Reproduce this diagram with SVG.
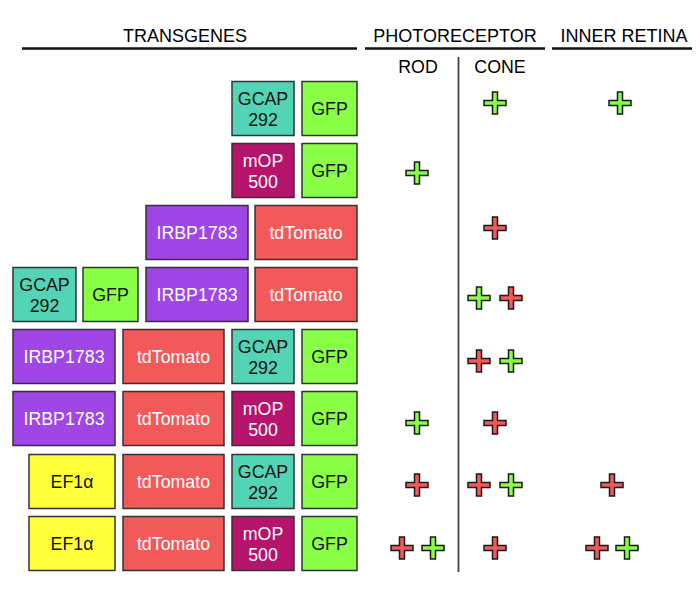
<svg xmlns="http://www.w3.org/2000/svg" xmlns:xlink="http://www.w3.org/1999/xlink" width="700" height="589" viewBox="0 0 700 589">
<style>
text{font-family:"Liberation Sans",Arial,sans-serif;font-size:17.8px;text-anchor:middle}
.hd{font-size:18px;fill:#000}
.box{stroke:#333;stroke-width:1.5}
.gcap{fill:#54D4B6}.gfp{fill:#88FF44}.irbp{fill:#A045E6}.tdt{fill:#F25A5A}.mop{fill:#B5136C}.ef{fill:#FFFF3A}
.dk{fill:#111}.wt{fill:#fff}
.rule{stroke:#111;stroke-width:2.5}
.pg{fill:#88FF44}.pr{fill:#F25A5A}
</style>
<defs>
<path id="plus" d="M-2.5,-11 h5 v8.5 h8.5 v5 h-8.5 v8.5 h-5 v-8.5 h-8.5 v-5 h8.5 z" stroke="#1a1a1a" stroke-width="1.5"/>
</defs>
<rect width="700" height="589" fill="#fff"/>
<g id="headers">
<text class="hd" x="185" y="41.5">TRANSGENES</text>
<text class="hd" x="455" y="41.5">PHOTORECEPTOR</text>
<text class="hd" x="624" y="41.5">INNER RETINA</text>
<text x="418" y="73">ROD</text>
<text x="500" y="73">CONE</text>
</g>
<g id="rules">
<line class="rule" x1="22" y1="48.5" x2="357" y2="48.5"/>
<line class="rule" x1="365" y1="48.5" x2="545" y2="48.5"/>
<line class="rule" x1="552" y1="48.5" x2="692" y2="48.5"/>
<line x1="458.5" y1="57" x2="458.5" y2="572" stroke="#444" stroke-width="1.8"/>
</g>
<g id="row1">
<g id="r1-gcap"><rect class="box gcap" x="232" y="81.5" width="62" height="54"/><text class="dk" x="263" y="104.5">GCAP</text><text class="dk" x="263" y="125.5">292</text></g>
<g id="r1-gfp"><rect class="box gfp" x="302" y="81.5" width="55" height="54"/><text class="dk" x="329.5" y="114.5">GFP</text></g>
</g>
<g id="row2">
<g id="r2-mop"><rect class="box mop" x="232" y="143.5" width="62" height="54"/><text class="wt" x="263" y="166.5">mOP</text><text class="wt" x="263" y="187.5">500</text></g>
<g id="r2-gfp"><rect class="box gfp" x="302" y="143.5" width="55" height="54"/><text class="dk" x="329.5" y="176.5">GFP</text></g>
</g>
<g id="row3">
<g id="r3-irbp"><rect class="box irbp" x="146" y="205.5" width="102" height="54"/><text class="wt" x="197" y="238.5">IRBP1783</text></g>
<g id="r3-tdt"><rect class="box tdt" x="255" y="205.5" width="102" height="54"/><text class="wt" x="306" y="238.5">tdTomato</text></g>
</g>
<g id="row4">
<g id="r4-gcap"><rect class="box gcap" x="13" y="267.5" width="63" height="54"/><text class="dk" x="44.5" y="290.5">GCAP</text><text class="dk" x="44.5" y="311.5">292</text></g>
<g id="r4-gfp"><rect class="box gfp" x="83" y="267.5" width="55" height="54"/><text class="dk" x="110.5" y="300.5">GFP</text></g>
<g id="r4-irbp"><rect class="box irbp" x="146" y="267.5" width="102" height="54"/><text class="wt" x="197" y="300.5">IRBP1783</text></g>
<g id="r4-tdt"><rect class="box tdt" x="255" y="267.5" width="102" height="54"/><text class="wt" x="306" y="300.5">tdTomato</text></g>
</g>
<g id="row5">
<g id="r5-irbp"><rect class="box irbp" x="13" y="329.5" width="102" height="54"/><text class="wt" x="64" y="362.5">IRBP1783</text></g>
<g id="r5-tdt"><rect class="box tdt" x="123" y="329.5" width="101" height="54"/><text class="wt" x="173.5" y="362.5">tdTomato</text></g>
<g id="r5-gcap"><rect class="box gcap" x="232" y="329.5" width="62" height="54"/><text class="dk" x="263" y="352.5">GCAP</text><text class="dk" x="263" y="373.5">292</text></g>
<g id="r5-gfp"><rect class="box gfp" x="302" y="329.5" width="55" height="54"/><text class="dk" x="329.5" y="362.5">GFP</text></g>
</g>
<g id="row6">
<g id="r6-irbp"><rect class="box irbp" x="13" y="391.5" width="102" height="54"/><text class="wt" x="64" y="424.5">IRBP1783</text></g>
<g id="r6-tdt"><rect class="box tdt" x="123" y="391.5" width="101" height="54"/><text class="wt" x="173.5" y="424.5">tdTomato</text></g>
<g id="r6-mop"><rect class="box mop" x="232" y="391.5" width="62" height="54"/><text class="wt" x="263" y="414.5">mOP</text><text class="wt" x="263" y="435.5">500</text></g>
<g id="r6-gfp"><rect class="box gfp" x="302" y="391.5" width="55" height="54"/><text class="dk" x="329.5" y="424.5">GFP</text></g>
</g>
<g id="row7">
<g id="r7-ef"><rect class="box ef" x="29" y="454.5" width="86" height="54"/><text class="dk" x="72" y="487.5">EF1α</text></g>
<g id="r7-tdt"><rect class="box tdt" x="123" y="454.5" width="101" height="54"/><text class="wt" x="173.5" y="487.5">tdTomato</text></g>
<g id="r7-gcap"><rect class="box gcap" x="232" y="454.5" width="62" height="54"/><text class="dk" x="263" y="477.5">GCAP</text><text class="dk" x="263" y="498.5">292</text></g>
<g id="r7-gfp"><rect class="box gfp" x="302" y="454.5" width="55" height="54"/><text class="dk" x="329.5" y="487.5">GFP</text></g>
</g>
<g id="row8">
<g id="r8-ef"><rect class="box ef" x="29" y="516.5" width="86" height="54"/><text class="dk" x="72" y="549.5">EF1α</text></g>
<g id="r8-tdt"><rect class="box tdt" x="123" y="516.5" width="101" height="54"/><text class="wt" x="173.5" y="549.5">tdTomato</text></g>
<g id="r8-mop"><rect class="box mop" x="232" y="516.5" width="62" height="54"/><text class="wt" x="263" y="539.5">mOP</text><text class="wt" x="263" y="560.5">500</text></g>
<g id="r8-gfp"><rect class="box gfp" x="302" y="516.5" width="55" height="54"/><text class="dk" x="329.5" y="549.5">GFP</text></g>
</g>
<g id="marks">
<use href="#plus" xlink:href="#plus" class="pg" x="495" y="103"/>
<use href="#plus" xlink:href="#plus" class="pg" x="620" y="103"/>
<use href="#plus" xlink:href="#plus" class="pg" x="417" y="173"/>
<use href="#plus" xlink:href="#plus" class="pr" x="495" y="228"/>
<use href="#plus" xlink:href="#plus" class="pg" x="479" y="298"/>
<use href="#plus" xlink:href="#plus" class="pr" x="511" y="298"/>
<use href="#plus" xlink:href="#plus" class="pr" x="479" y="361"/>
<use href="#plus" xlink:href="#plus" class="pg" x="511" y="361"/>
<use href="#plus" xlink:href="#plus" class="pg" x="417" y="423"/>
<use href="#plus" xlink:href="#plus" class="pr" x="495" y="423"/>
<use href="#plus" xlink:href="#plus" class="pr" x="417" y="485"/>
<use href="#plus" xlink:href="#plus" class="pr" x="479" y="485"/>
<use href="#plus" xlink:href="#plus" class="pg" x="511" y="485"/>
<use href="#plus" xlink:href="#plus" class="pr" x="612" y="485"/>
<use href="#plus" xlink:href="#plus" class="pr" x="402" y="548"/>
<use href="#plus" xlink:href="#plus" class="pg" x="433" y="548"/>
<use href="#plus" xlink:href="#plus" class="pr" x="495" y="548"/>
<use href="#plus" xlink:href="#plus" class="pr" x="597" y="548"/>
<use href="#plus" xlink:href="#plus" class="pg" x="627" y="548"/>
</g>
</svg>
